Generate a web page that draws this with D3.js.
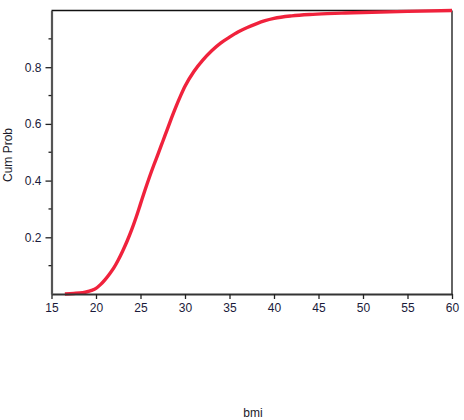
<!DOCTYPE html>
<html>
<head>
<meta charset="utf-8">
<script src="https://cdn.jsdelivr.net/npm/d3@7"></script>
<style>
  body { margin: 0; background: #fff; }
  text { font-family: "Liberation Sans", Arial, sans-serif; }
</style>
</head>
<body>
<div id="container"></div>
<script>
// bmi values and cumulative probability
var bmi = [16.5, 17.5, 18.5, 19, 19.5, 20, 20.5, 21, 21.5, 22, 22.5, 23, 23.5, 24, 24.5, 25, 25.5, 26, 26.5, 27, 27.5, 28, 28.5, 29, 29.5, 30,
           31, 32, 33, 34, 35, 36, 37, 38, 39, 40, 42, 44, 46, 48, 50, 55, 60];
var cumProb = [0, 0.002, 0.005, 0.008, 0.013, 0.02, 0.033, 0.05, 0.07, 0.092, 0.12, 0.152, 0.187, 0.226, 0.27, 0.318, 0.366, 0.412, 0.455, 0.496, 0.538, 0.58, 0.622, 0.662, 0.699, 0.733,
               0.785, 0.825, 0.858, 0.885, 0.906, 0.925, 0.94, 0.953, 0.964, 0.972, 0.981, 0.986, 0.989, 0.991, 0.993, 0.997, 1.0];
var xTicks = [15, 20, 25, 30, 35, 40, 45, 50, 55, 60];
var yTicks = [0.2, 0.4, 0.6, 0.8];
var yMinorTicks = [0.1, 0.3, 0.5, 0.7, 0.9];

var width = 464, height = 420,
    margin = {top: 10.5, bottom: 126, left: 51.5, right: 12};

var svg = d3.select("div#container").append("svg").attr("width", width).attr("height", height);

var xScale = d3.scaleLinear().domain([15, 60]).range([margin.left, width - margin.right]);
var yScale = d3.scaleLinear().domain([0, 1]).range([height - margin.bottom, margin.top]);

// frame: top and right
svg.append("line")
   .attr("x1", margin.left).attr("x2", width - margin.right)
   .attr("y1", margin.top).attr("y2", margin.top)
   .attr("stroke", "#111").attr("stroke-width", 1.3);
svg.append("line")
   .attr("x1", width - margin.right).attr("x2", width - margin.right)
   .attr("y1", margin.top).attr("y2", height - margin.bottom)
   .attr("stroke", "#111").attr("stroke-width", 1.3);

// curve
var line = d3.line()
   .curve(d3.curveMonotoneX)
   .x(function(d) { return xScale(d[0]); })
   .y(function(d) { return yScale(d[1]); });

svg.append("path")
   .datum(bmi.map(function(v, i) { return [v, cumProb[i]]; }))
   .attr("d", line)
   .attr("fill", "none")
   .attr("stroke", "#f0223c")
   .attr("stroke-width", 3.4)
   .attr("stroke-linejoin", "round");

// x axis
var gx = svg.append("g")
   .attr("transform", "translate(0," + (height - margin.bottom) + ")")
   .call(d3.axisBottom(xScale).tickValues(xTicks).tickSize(5).tickSizeOuter(0).tickFormat(d3.format("d")));
gx.select(".domain").attr("stroke", "#333").attr("stroke-width", 2);
gx.selectAll(".tick line").attr("stroke", "#222").attr("stroke-width", 1.3);
gx.selectAll(".tick text").attr("fill", "#1a1a3a").style("font-size", "12px").attr("y", 9);

// y axis
var gy = svg.append("g")
   .attr("transform", "translate(" + margin.left + ",0)")
   .call(d3.axisLeft(yScale).tickValues(yTicks).tickSize(6).tickSizeOuter(0).tickFormat(d3.format(".1f")));
gy.select(".domain").attr("stroke", "#555").attr("stroke-width", 2.2);
gy.selectAll(".tick line").attr("stroke", "#222").attr("stroke-width", 1.3);
gy.selectAll(".tick text").attr("fill", "#1a1a3a").style("font-size", "12px").attr("x", -10);

gy.selectAll(".minor")
   .data(yMinorTicks)
   .enter().append("line")
   .attr("class", "minor")
   .attr("x1", -3).attr("x2", 0)
   .attr("y1", function(d) { return yScale(d); })
   .attr("y2", function(d) { return yScale(d); })
   .attr("stroke", "#222").attr("stroke-width", 1.3);

// axis titles
svg.append("text")
   .attr("transform", "translate(12,155) rotate(-90)")
   .attr("text-anchor", "middle")
   .style("font-size", "12px")
   .attr("fill", "#1a1a2a")
   .text("Cum Prob");

svg.append("text")
   .attr("x", 253).attr("y", 417)
   .attr("text-anchor", "middle")
   .style("font-size", "12px")
   .attr("fill", "#1a1a2a")
   .text("bmi");
</script>
</body>
</html>
